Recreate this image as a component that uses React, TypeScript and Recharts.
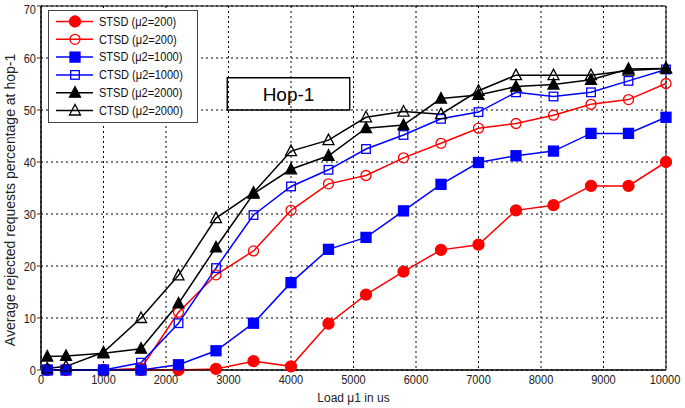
import React from 'react';
import { LineChart, Line, XAxis, YAxis, CartesianGrid, ReferenceArea, Legend } from 'recharts';

const loads = [100, 400, 1000, 1600, 2200, 2800, 3400, 4000, 4600, 5200, 5800, 6400, 7000, 7600, 8200, 8800, 9400, 10000];
const stsd200 = [0, 0, 0, 0, 0, 0.2, 1.7, 0.7, 8.9, 14.5, 18.9, 23.1, 24.1, 30.7, 31.7, 35.4, 35.4, 40.0];
const ctsd200 = [0, 0, 0, 0.3, 11.1, 18.3, 22.9, 30.7, 35.8, 37.4, 40.8, 43.6, 46.5, 47.4, 49.0, 51.1, 52.0, 55.1];
const stsd1000 = [0, 0, 0, 0, 1.0, 3.7, 9.0, 16.8, 23.2, 25.5, 30.6, 35.7, 39.9, 41.2, 42.1, 45.5, 45.5, 48.6];
const ctsd1000 = [0, 0, 0, 1.4, 9.0, 19.6, 29.8, 35.3, 38.5, 42.5, 45.2, 48.3, 49.6, 53.4, 52.6, 53.4, 55.6, 57.8];
const stsd2000 = [2.6, 2.7, 3.2, 4.1, 12.8, 23.6, 33.9, 38.6, 41.2, 46.5, 47.1, 52.2, 52.9, 54.5, 54.9, 55.8, 57.9, 58.0];
const ctsd2000 = [0.3, 0.7, 3.4, 10.0, 18.2, 29.2, 34.1, 42.1, 44.2, 48.6, 49.7, 49.2, 53.7, 56.7, 56.7, 56.7, 57.6, 58.0];

const xTicks = [0, 1000, 2000, 3000, 4000, 5000, 6000, 7000, 8000, 9000, 10000];
const yTicks = [0, 10, 20, 30, 40, 50, 60, 70];

type Kind = 'circle' | 'square' | 'triangle';
const series: { key: string; name: string; values: number[]; color: string; kind: Kind; filled: boolean }[] = [
  { key: 's200', name: 'STSD (\u03bc2=200)', values: stsd200, color: '#ff0000', kind: 'circle', filled: true },
  { key: 'c200', name: 'CTSD (\u03bc2=200)', values: ctsd200, color: '#ff0000', kind: 'circle', filled: false },
  { key: 's1000', name: 'STSD (\u03bc2=1000)', values: stsd1000, color: '#0000ff', kind: 'square', filled: true },
  { key: 'c1000', name: 'CTSD (\u03bc2=1000)', values: ctsd1000, color: '#0000ff', kind: 'square', filled: false },
  { key: 's2000', name: 'STSD (\u03bc2=2000)', values: stsd2000, color: '#000000', kind: 'triangle', filled: true },
  { key: 'c2000', name: 'CTSD (\u03bc2=2000)', values: ctsd2000, color: '#000000', kind: 'triangle', filled: false },
];

const data = loads.map((x, i) => {
  const row: Record<string, number> = { x };
  series.forEach((s) => (row[s.key] = s.values[i]));
  return row;
});

const SQUEEZE = 0.85;
const squeeze = (x: number, y: number) => `translate(${x} ${y}) scale(${SQUEEZE} 1) translate(${-x} ${-y})`;

const XTick = (p: any) => (
  <text x={p.x} y={p.y} dy="0.71em" textAnchor="middle" fontSize={13} fill="#222" transform={squeeze(p.x, p.y)}>
    {p.payload.value}
  </text>
);

const YTick = (p: any) => (
  <text x={p.x} y={p.y} dy="0.355em" textAnchor="end" fontSize={13} fill="#222" transform={squeeze(p.x, p.y)}>
    {p.payload.value}
  </text>
);

function Marker({ cx, cy, kind, color, filled }: { cx: number; cy: number; kind: Kind; color: string; filled: boolean }) {
  const fill = filled ? color : 'none';
  const sw = 1.3;
  if (kind === 'circle') {
    return <circle cx={cx} cy={cy} r={filled ? 5.5 : 5} fill={fill} stroke={color} strokeWidth={sw} />;
  }
  if (kind === 'square') {
    const h = filled ? 5 : 4.3;
    return <rect x={cx - h} y={cy - h} width={2 * h} height={2 * h} fill={fill} stroke={color} strokeWidth={sw} />;
  }
  const w = 5.5;
  return (
    <polygon
      points={`${cx},${cy - 6} ${cx - w},${cy + 4.5} ${cx + w},${cy + 4.5}`}
      fill={fill}
      stroke={color}
      strokeWidth={sw}
    />
  );
}

const LegendBox = () => (
  <svg width={150} height={113} style={{ display: 'block' }}>
    <rect x={0.5} y={0.5} width={149} height={112} fill="#fff" stroke="#444" strokeWidth={1} />
    {series.map((s, i) => {
      const cy = 11.5 + i * 17.8;
      return (
        <g key={s.key}>
          <line x1={8} x2={45} y1={cy} y2={cy} stroke={s.color} strokeWidth={1.5} />
          <Marker cx={27} cy={cy} kind={s.kind} color={s.color} filled={s.filled} />
          <text
            x={51}
            y={cy}
            dominantBaseline="central"
            fontSize={13}
            fontFamily="Arial, 'Liberation Sans'"
            fill="#111"
            transform={squeeze(51, cy)}
          >
            {s.name}
          </text>
        </g>
      );
    })}
  </svg>
);

export default function App() {
  return (
    <div style={{ position: 'absolute', left: 0, top: 0, background: '#fff' }}>
      <LineChart
        width={685}
        height={408}
        data={data}
        margin={{ top: 6, right: 19, left: 0, bottom: 0 }}
        style={{ fontFamily: "Arial, 'Liberation Sans', sans-serif" }}
      >
        <CartesianGrid stroke="#000" strokeDasharray="2 3" strokeWidth={1} />
        <XAxis
          dataKey="x"
          type="number"
          domain={[0, 10000]}
          ticks={xTicks}
          height={38}
          tickLine={false}
          tickSize={3}
          tickMargin={2}
          axisLine={{ stroke: '#000' }}
          tick={XTick}
          label={{ value: 'Load \u03bc1 in us', position: 'insideBottom', offset: 6, fontSize: 12, fill: '#222' }}
        />
        <YAxis
          type="number"
          domain={[0, 70]}
          ticks={yTicks}
          width={41}
          tickLine={{ stroke: '#333' }}
          tickSize={4}
          tickMargin={1}
          axisLine={{ stroke: '#000' }}
          tick={YTick}
          label={{
            content: () => (
              <text
                x={10}
                y={200}
                transform="rotate(-90 10 200)"
                textAnchor="middle"
                dominantBaseline="central"
                fontSize={14}
                fill="#222"
              >
                Average rejected requests percentage at hop-1
              </text>
            ),
          }}
        />
        <ReferenceArea x1={0} x2={10000} y1={0} y2={70} fill="none" stroke="#000" strokeWidth={1} />
        <ReferenceArea
          x1={2980}
          x2={4940}
          y1={50}
          y2={56.2}
          fill="none"
          stroke="#000"
          strokeWidth={1.4}
          label={{ value: 'Hop-1', position: 'center', fontSize: 19, fill: '#000' }}
        />
        {series.map((s) => (
          <Line
            key={s.key}
            dataKey={s.key}
            name={s.name}
            stroke={s.color}
            strokeWidth={1.5}
            isAnimationActive={false}
            dot={(p: any) => (
              <Marker key={`${s.key}-${p.index}`} cx={p.cx} cy={p.cy} kind={s.kind} color={s.color} filled={s.filled} />
            )}
            activeDot={false}
          />
        ))}
        <Legend
          layout="horizontal"
          verticalAlign="middle"
          align="center"
          content={() => <LegendBox />}
          wrapperStyle={{ left: 48, top: 10, width: 150, height: 113 }}
        />
      </LineChart>
    </div>
  );
}
